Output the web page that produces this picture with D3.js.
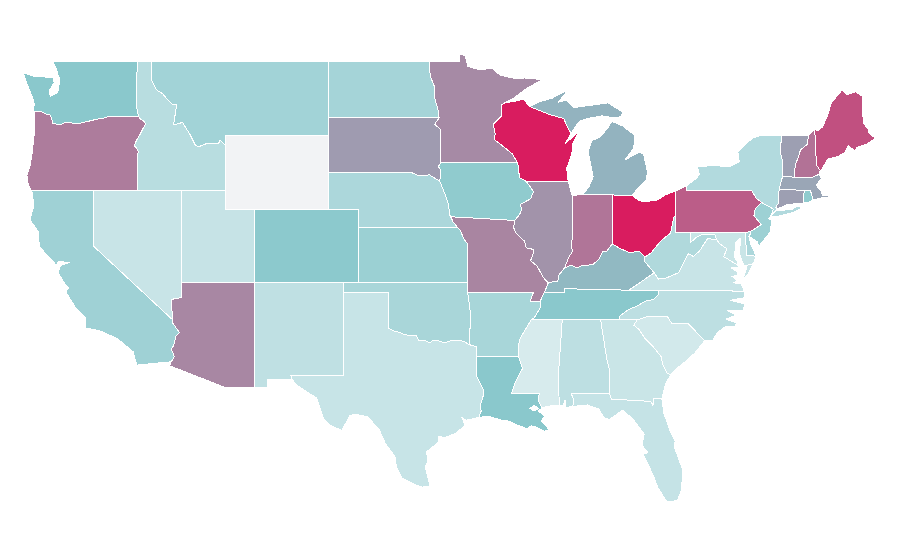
<!DOCTYPE html>
<html><head><meta charset="utf-8">
<script src="https://cdn.jsdelivr.net/npm/d3@7/dist/d3.min.js"></script>
<style>html,body{margin:0;background:#fff}svg{display:block}</style>
</head><body><svg id="map" width="900" height="560"></svg>
<script>
const stateNames=["WA","OR","CA","NV","ID","MT","WY","UT","AZ","CO","NM","ND","SD","NE","KS","OK","TX","MN","IA","MO","AR","LA","WI","IL","MI","IN","OH","KY","TN","MS","AL","GA","FL","SC","NC","VA","WV","MD","DE","PA","NJ","NY","CT","RI","MA","VT","NH","ME"];
const stateValues=[50,72,39,17,25.5,37,0,18,69,49,22,35.5,63,32,41,33.5,17.5,68,47,69.5,34,50,100,65.5,56,74,100,54.5,50,9,23,16.5,18.5,11.5,23,17,30,16.5,32,81,40,28.5,62,47,60,62,75,85];
const colorDomain=[0,1,50,100];
const colorRange=["#f2f3f5","#e6f2f4","#8ac8cc","#d91c5f"];

// Shared borders, lon/lat
const borders={
columbia:[[-124.0,46.27],[-123.5,46.26],[-123.2,46.15],[-122.9,46.08],[-122.8,45.85],[-122.75,45.65],[-122.3,45.55],[-121.9,45.68],[-121.2,45.65],[-120.9,45.65],[-120.5,45.72],[-119.9,45.84],[-119.3,45.93],[-118.98,46.0],[-116.92,46.0]],
snake:[[-116.92,46.0],[-116.78,45.85],[-116.55,45.75],[-116.46,45.6],[-116.67,45.3],[-116.85,45.0],[-117.05,44.75],[-117.22,44.45],[-117.03,44.25],[-116.95,44.1],[-117.03,43.83],[-117.03,42.0]],
waId:[[-117.03,49],[-117.04,46.42],[-116.92,46.0]],
bitter:[[-116.05,49],[-116.05,48.0],[-115.7,47.45],[-115.3,47.25],[-114.95,46.92],[-114.6,46.65],[-114.35,46.65],[-114.45,46.1],[-114.56,45.56],[-113.94,45.69],[-113.8,45.5],[-113.45,45.05],[-113.1,44.5],[-112.9,44.36],[-112.3,44.55],[-111.5,44.55],[-111.4,44.74],[-111.05,44.47]],
caAz:[[-114.63,35.0],[-114.6,34.8],[-114.15,34.3],[-114.4,34.1],[-114.55,33.6],[-114.7,33.4],[-114.5,33.0],[-114.72,32.72]],
red:[[-100,34.56],[-99.6,34.38],[-99.2,34.3],[-98.9,34.2],[-98.4,34.12],[-98.1,34.13],[-97.95,33.9],[-97.6,33.9],[-97.2,33.75],[-96.9,33.9],[-96.6,33.85],[-96.2,33.75],[-95.8,33.85],[-95.3,33.88],[-94.9,33.83],[-94.48,33.64]],
redAr:[[-94.48,33.64],[-94.04,33.55]],
sabine:[[-94.04,31.99],[-93.8,31.6],[-93.55,31.2],[-93.55,30.9],[-93.75,30.4],[-93.7,30.05],[-93.85,29.7]],
moKs:[[-94.62,39.11],[-94.9,39.4],[-95.1,39.85],[-95.3,40.0]],
moNe:[[-95.3,40.0],[-95.6,40.3],[-95.77,40.58]],
iaNe:[[-95.77,40.58],[-95.85,40.7],[-95.9,41.2],[-96.1,41.7],[-96.5,42.5]],
iaSd:[[-96.5,42.5],[-96.45,43.1],[-96.6,43.3],[-96.45,43.5]],
neSd:[[-96.5,42.5],[-96.7,42.6],[-97.2,42.85],[-97.9,42.8],[-98.5,43.0]],
mnSd:[[-96.45,43.5],[-96.45,45.3],[-96.85,45.6],[-96.55,45.94]],
mnNd:[[-96.55,45.94],[-96.6,46.3],[-96.85,47.0],[-96.85,47.6],[-97.15,48.2],[-97.23,49]],
mnWi:[[-92.1,46.75],[-92.3,46.66],[-92.29,46.07],[-92.88,45.6],[-92.75,45.1],[-92.8,44.75],[-92.3,44.45],[-91.6,44.0],[-91.22,43.5]],
iaWi:[[-91.22,43.5],[-91.1,42.7],[-90.65,42.5]],
iaIl:[[-90.65,42.5],[-90.15,41.95],[-90.35,41.55],[-91.05,41.25],[-90.95,40.95],[-91.1,40.7],[-91.42,40.38]],
moIl:[[-91.42,40.38],[-91.5,40.0],[-91.35,39.7],[-90.75,39.25],[-90.65,38.9],[-90.12,38.8],[-90.2,38.5],[-90.35,38.2],[-89.9,37.9],[-89.5,37.3],[-89.15,37.0]],
moKy:[[-89.15,37.0],[-89.4,36.5]],
moTn:[[-89.4,36.5],[-89.7,36.0]],
arTn:[[-89.7,36.0],[-89.65,35.7],[-90.1,35.1],[-90.3,35.0]],
arMs:[[-90.3,35.0],[-90.6,34.6],[-90.9,34.2],[-91.1,33.9],[-91.2,33.4],[-91.17,33.0]],
laMs:[[-91.17,33.0],[-90.9,32.35],[-91.4,31.6],[-91.63,31.0],[-89.75,31.0],[-89.85,30.65],[-89.55,30.2]],
wiMi:[[-90.4,46.55],[-89.1,46.13],[-88.1,45.9],[-87.8,45.35],[-87.6,45.1]],
wabash:[[-87.53,41.72],[-87.53,39.35],[-87.6,39.0],[-87.5,38.7],[-87.75,38.4],[-88.05,37.8]],
ilKy:[[-88.05,37.8],[-88.45,37.4],[-88.5,37.1],[-89.15,37.0]],
inKy:[[-84.82,39.1],[-85.2,38.7],[-85.45,38.7],[-85.7,38.3],[-86.1,38.0],[-86.5,37.95],[-86.8,37.95],[-87.2,37.8],[-87.6,37.95],[-88.05,37.8]],
ohKy:[[-82.6,38.4],[-83.0,38.72],[-83.65,38.63],[-84.25,38.85],[-84.82,39.1]],
ohWv:[[-80.52,40.64],[-80.65,40.55],[-80.85,39.7],[-81.4,39.35],[-81.75,39.05],[-81.9,38.9],[-82.2,38.6],[-82.6,38.4]],
kyWv:[[-82.6,38.4],[-82.6,38.15],[-81.97,37.54]],
kyVa:[[-81.97,37.54],[-83.68,36.6]],
kyTn:[[-83.68,36.6],[-86.5,36.65],[-88.07,36.68],[-88.07,36.5],[-89.4,36.5]],
tnVa:[[-83.68,36.6],[-81.68,36.59]],
tnNc:[[-81.68,36.59],[-81.7,36.35],[-82.0,36.1],[-82.6,36.0],[-83.1,35.75],[-83.7,35.55],[-84.3,35.2],[-84.32,34.99]],
gaSc:[[-83.11,35],[-83.35,34.7],[-83.0,34.47],[-82.6,34.0],[-82.0,33.5],[-81.5,33.0],[-81.4,32.6],[-81.1,32.1],[-80.85,32.03]],
ncSc:[[-83.11,35],[-82.3,35.2],[-81.05,35.15],[-80.8,34.82],[-79.67,34.8],[-78.55,33.86]],
gaAl:[[-85.6,35],[-85.18,32.87],[-85.0,32.3],[-85.0,31.0]],
gaFl:[[-85.0,31.0],[-84.86,30.7],[-82.2,30.57],[-82.05,30.36],[-82.0,30.75],[-81.45,30.72]],
alFl:[[-85.0,31.0],[-87.6,31.0],[-87.4,30.65],[-87.5,30.3]],
alMs:[[-88.2,35],[-88.47,31.9],[-88.4,30.37]],
vaWv:[[-77.72,39.32],[-78.35,39.4],[-78.87,38.75],[-79.3,38.42],[-79.65,38.58],[-80.3,37.55],[-81.22,37.24],[-81.68,37.2],[-81.97,37.54]],
potomac:[[-76.3,37.95],[-77.0,38.3],[-77.25,38.4],[-77.05,38.85],[-77.5,39.1],[-77.72,39.32]],
mdWv:[[-77.72,39.32],[-77.85,39.6],[-78.4,39.62],[-78.75,39.6],[-79.1,39.47],[-79.48,39.2]],
delaware:[[-75.35,42.0],[-75.07,41.6],[-74.7,41.36],[-75.13,40.98],[-75.2,40.65],[-74.72,40.15],[-75.4,39.8]],
njNy:[[-74.7,41.36],[-73.9,41.0],[-74.0,40.7]],
nyVt:[[-73.35,45],[-73.4,44.0],[-73.25,43.55],[-73.27,42.75]],
nyCt:[[-73.5,42.05],[-73.55,41.3],[-73.73,41.1],[-73.65,41.0]],
ctRiver:[[-71.5,45.01],[-71.6,44.5],[-72.05,44.2],[-72.2,43.8],[-72.4,43.4],[-72.45,43.0],[-72.46,42.73]],
maNh:[[-72.46,42.73],[-71.3,42.7],[-70.82,42.87]],
meNh:[[-71.08,45.3],[-70.97,43.4],[-70.7,43.07]],
maRi:[[-71.8,42.02],[-71.38,42.02],[-71.2,41.5]],
ctRi:[[-71.8,42.02],[-71.85,41.32]],
miOh:[[-84.8,41.76],[-83.45,41.73]]
};
// State outlines: a string names a shared border ("-" runs it backwards)
const outlines={
WA:[[[-122.76,49],[-117.03,49],"waId","-columbia",[-124.05,46.27],[-124.0,46.7],[-124.1,47.0],[-124.35,47.5],[-124.6,48.0],[-124.73,48.38],[-123.9,48.17],[-123.1,48.15],[-122.75,48.15],[-122.65,47.85],[-123.0,47.4],[-122.9,47.1],[-122.55,47.25],[-122.4,47.35],[-122.35,47.6],[-122.25,48.0],[-122.4,48.3],[-122.5,48.6]]],
OR:[[[-124.0,46.27],"columbia","snake",[-124.21,42],[-124.4,42.3],[-124.5,42.85],[-124.3,43.3],[-124.15,44.0],[-124.05,44.7],[-123.95,45.5]]],
CA:[[[-124.17,42],[-120,42],[-120,39],"caAz",[-114.72,32.72],[-117.05,32.54],[-117.3,33.27],[-118.41,34.0],[-119.54,34.39],[-120.49,34.55],[-120.56,35.16],[-121.24,35.7],[-121.85,36.5],[-121.69,36.72],[-122.03,37.06],[-122.39,37.59],[-122.2,37.95],[-121.6,38.1],[-122.35,38.15],[-122.52,37.96],[-122.82,38.24],[-123.66,38.96],[-123.72,39.77],[-124.29,40.4],[-124.02,41.22]]],
NV:[[[-120,42],[-114.05,42],[-114.05,36.2],[-114.7,36.1],[-114.63,35.0],[-120,39]]],
ID:[[[-117.03,49],[-116.05,49],"bitter",[-111.05,42],[-117.03,42],"-snake","-waId"]],
MT:[[[-116.05,49],[-104.05,49],[-104.05,45],[-111.05,45],"-bitter"]],
WY:[[[-111.05,45],[-104.05,45],[-104.05,41],[-111.05,41]]],
UT:[[[-114.05,42],[-111.05,42],[-111.05,41],[-109.05,41],[-109.05,37],[-114.05,37]]],
AZ:[[[-114.05,37],[-109.05,37],[-109.05,31.33],[-111.07,31.33],[-114.81,32.5],"-caAz",[-114.7,36.1],[-114.05,36.2]]],
CO:[[[-109.05,41],[-102.05,41],[-102.05,37],[-109.05,37]]],
NM:[[[-109.05,37],[-103,37],[-103.04,36.5],[-103.06,32],[-106.62,32],[-106.53,31.78],[-108.21,31.78],[-108.21,31.33],[-109.05,31.33]]],
ND:[[[-104.05,49],[-97.23,49],"-mnNd",[-104.05,45.94]]],
SD:[[[-104.05,45.94],[-96.55,45.94],"-mnSd","-iaSd","neSd",[-104.05,43]]],
NE:[[[-104.05,43],"-neSd","-iaNe","-moNe",[-102.05,40],[-102.05,41],[-104.05,41]]],
KS:[[[-102.05,40],"-moKs",[-94.62,37],[-102.05,37]]],
OK:[[[-103,37],[-94.62,37],[-94.62,36.5],[-94.43,35.4],"-red",[-100,36.5],[-103.04,36.5]]],
TX:[[[-103.04,36.5],[-100,36.5],"red","redAr","sabine",[-94.75,29.55],[-95.02,29.73],[-94.8,29.3],[-95.36,28.86],[-96.2,28.6],[-96.56,28.7],[-96.63,28.32],[-97.4,27.85],[-97.3,27.3],[-97.5,27.03],[-97.3,26.4],[-97.15,25.96],[-97.7,25.93],[-98.3,26.1],[-99.09,26.42],[-99.45,27.05],[-99.54,27.57],[-100.2,28.3],[-100.65,29.1],[-100.9,29.3],[-101.4,29.74],[-102.3,29.88],[-102.6,29.8],[-103.15,29],[-104,29.3],[-104.4,29.67],[-104.85,30.75],[-106.2,31.45],[-106.53,31.78],[-106.62,32],[-103.06,32]]],
MN:[[[-97.23,49],[-95.15,49],[-95.15,49.38],[-94.8,49.33],[-94.6,48.72],[-93.8,48.55],[-92.95,48.62],[-92.4,48.25],[-91.4,48.07],[-90.75,48.1],[-89.5,48.01],[-90.5,47.6],[-91.5,47.0],"mnWi",[-96.45,43.5],"mnSd","mnNd"]],
IA:[[[-96.45,43.5],[-91.22,43.5],"iaWi","iaIl",[-95.77,40.58],"iaNe","iaSd"]],
MO:[[[-95.77,40.58],[-91.42,40.38],"moIl","moKy","moTn",[-90.37,36],[-90.15,36.5],[-94.62,36.5],[-94.62,39.11],"moKs","moNe"]],
AR:[[[-94.62,36.5],[-90.15,36.5],[-90.37,36],"arTn","arMs",[-94.04,33],[-94.04,33.55],"-redAr",[-94.43,35.4]]],
LA:[[[-94.04,33],"laMs",[-89.85,30.05],[-89.4,29.8],[-89.6,29.5],[-89.1,29.05],[-89.4,28.95],[-90.0,29.2],[-90.3,29.25],[-90.6,29.1],[-91.3,29.3],[-91.8,29.5],[-92.3,29.55],[-93.2,29.77],"-sabine"],[[-90.4,30.2],[-90.1,30.35],[-89.8,30.2],[-90.1,30.05]]],
WI:[["-iaWi","-mnWi",[-91.2,46.87],[-90.85,46.96],[-90.4,46.55],"wiMi",[-88,44.55],[-87.07,45.2],[-87.5,44.5],[-87.55,44],[-87.9,43.2],[-87.8,42.5]]],
IL:[[[-90.65,42.5],[-87.8,42.5],"wabash","ilKy","-moIl","-iaIl"]],
MI:[[[-86.82,41.76],"miOh",[-83.15,42.05],[-82.5,42.6],[-82.42,43],[-82.7,44],[-83,44.07],[-83.95,43.66],[-83.35,44.3],[-83.3,45],[-84.1,45.5],[-84.85,45.75],[-85.1,45.4],[-85.65,44.9],[-86.2,44.7],[-86.45,44.1],[-86.1,42.75],[-86.4,42.2]],
    ["wiMi",[-87.05,45.75],[-86.5,45.9],[-85.5,46.05],[-84.75,45.95],[-84.2,46],[-84.1,46.25],[-84.5,46.45],[-85.1,46.75],[-86,46.65],[-87.4,46.5],[-87.9,46.9],[-88.45,46.8],[-87.8,47.47],[-88.9,47],[-89.8,46.8]]],
IN:[[[-87.53,41.72],[-87.2,41.76],[-86.82,41.76],[-84.8,41.76],"inKy","-wabash"]],
OH:[["miOh",[-83,41.45],[-82.5,41.4],[-81.7,41.5],[-81.2,41.77],[-80.52,41.98],"ohWv","ohKy"]],
KY:[["-ohKy","kyWv","kyVa","kyTn","-moKy","-ilKy","-inKy"]],
TN:[["-kyTn","tnVa","tnNc",[-88.2,35],[-90.3,35],"-arTn","-moTn"]],
MS:[[[-88.2,35],[-90.3,35],"arMs","laMs",[-89.3,30.3],"-alMs"]],
AL:[[[-88.2,35],[-85.6,35],"gaAl","alFl",[-88,30.23],[-88,30.65],[-88.15,30.35],"-alMs"]],
GA:[[[-85.6,35],[-83.11,35],"gaSc",[-81.2,31.5],"-gaFl","-gaAl"]],
FL:[["gaFl",[-81.3,29.9],[-80.9,29],[-80.55,28.4],[-80.6,28.1],[-80.05,26.9],[-80.1,25.8],[-80.4,25.2],[-81.1,25.12],[-81.75,25.95],[-82,26.5],[-82.7,27.7],[-82.4,27.8],[-82.8,28.2],[-82.65,28.8],[-83.4,29.6],[-84.1,30.1],[-85,29.6],[-85.4,29.7],[-85.7,30.15],[-86.5,30.38],"-alFl"]],
SC:[["ncSc",[-79.2,33.2],[-79.9,32.7],[-80.45,32.35],"-gaSc"]],
NC:[[[-84.32,34.99],[-83.11,35],"ncSc",[-77.98,33.9],[-77.7,34.3],[-77.1,34.65],[-76.5,34.65],[-76.4,34.82],[-77.1,35.03],[-76.4,35.25],[-77.05,35.5],[-75.95,35.5],[-75.8,35.85],[-76.8,36.05],[-75.8,36.2],[-75.87,36.55],[-81.68,36.59],"tnNc"]],
VA:[["tnVa",[-75.87,36.55],[-76.05,36.93],[-76.6,37.0],[-76.3,37.1],[-76.7,37.35],[-76.3,37.4],[-76.35,37.6],[-76.75,37.8],[-76.25,37.85],"potomac","vaWv","kyVa"],[[-75.97,37.15],[-75.6,37.5],[-75.25,38.03],[-75.65,37.95]]],
WV:[[[-80.52,40.64],[-80.52,39.72],[-79.48,39.72],[-79.48,39.2],"-mdWv","vaWv","-kyWv","-ohWv"]],
MD:[[[-79.48,39.72],[-75.79,39.72],[-75.7,38.46],[-75.05,38.45],[-75.25,38.03],[-75.65,37.95],[-75.9,37.95],[-76.2,38.6],[-76.1,39.4],[-76.05,39.45],[-76.45,39.2],[-76.45,38.9],[-76.55,38.4],[-76.35,38.2],[-76.3,37.95],"potomac","mdWv"]],
DE:[[[-75.79,39.72],[-75.4,39.8],[-75.55,39.5],[-75.4,39.05],[-75.05,38.45],[-75.7,38.46]]],
PA:[[[-80.52,41.98],[-79.76,42.27],[-79.76,42],"delaware",[-75.79,39.72],[-80.52,39.72]]],
NJ:[["njNy",[-74.2,40.48],[-74,40.4],[-74.1,39.75],[-74.9,38.95],[-74.95,39.2],[-75.5,39.5],[-75.4,39.8],[-74.72,40.15],[-75.2,40.65],[-75.13,40.98]]],
NY:[[[-79.76,42.27],[-79.05,42.7],[-78.9,42.9],[-79.05,43.27],[-78,43.37],[-76.9,43.28],[-76.2,43.55],[-76.3,44.1],[-75.3,44.85],[-74.7,45],"nyVt",[-73.5,42.05],"nyCt",[-73.9,40.8],[-74,40.7],[-73.9,41],[-74.7,41.36],[-75.07,41.6],[-75.35,42],[-79.76,42]],[[-74.05,40.6],[-73.7,40.9],[-72.6,40.98],[-72.3,41.15],[-71.87,41.07],[-72.5,40.82],[-73.7,40.58]]],
CT:[["nyCt",[-72.9,41.25],[-71.85,41.32],"-ctRi"]],
RI:[["maRi",[-71.5,41.37],[-71.85,41.32]]],
MA:[[[-73.5,42.05],[-73.27,42.75],"maNh",[-70.6,42.65],[-71,42.3],[-70.65,41.95],[-70.55,41.75],[-70,41.75],[-70,41.67],[-70.6,41.6],[-71.2,41.5],"-maRi"]],
VT:[[[-73.35,45],"ctRiver",[-73.27,42.75],"-nyVt"]],
NH:[[[-71.5,45.01],[-71.08,45.3],"meNh",[-70.82,42.87],"-maNh","-ctRiver"]],
ME:[["-meNh",[-70.85,45.25],[-70.55,45.45],[-70.15,46.2],[-70,46.7],[-69.23,47.46],[-68.9,47.2],[-68.3,47.35],[-67.85,47.1],[-67.8,45.7],[-67.45,45.3],[-67.45,45.15],[-66.97,44.83],[-67.6,44.5],[-68.2,44.35],[-68.4,44.15],[-68.8,44.45],[-69.05,44.05],[-69.5,43.85],[-70.2,43.7],[-70.6,43.15]]]
};

function expand(ring){
  const pts=[];
  ring.forEach(item=>{
    if(typeof item==="string"){
      const rev=item[0]==="-";
      const arc=borders[rev?item.slice(1):item];
      (rev?arc.slice().reverse():arc).forEach(p=>pts.push(p));
    } else pts.push(item);
  });
  pts.push(pts[0]);
  return pts;
}
const x=d3.scaleLinear().domain([-102.05,-66.95]).range([358,875.7]);
const y=d3.scaleLinear().domain([41,25.12]).range([209,502]);
const color=d3.scaleLinear().domain(colorDomain).range(colorRange);
const path=d3.geoPath(d3.geoTransform({point(lon,lat){this.stream.point(x(lon),y(lat));}}));
const features=stateNames.map((id,i)=>({type:"Feature",id,properties:{value:stateValues[i]},
  geometry:{type:"Polygon",coordinates:outlines[id].map(expand)}}));
d3.select("#map").append("g").selectAll("path").data(features).join("path")
  .attr("d",path).attr("fill",d=>color(d.properties.value))
  .attr("fill-rule","evenodd").attr("stroke","#fff").attr("stroke-width",1)
  .attr("shape-rendering","crispEdges");
</script>
</body></html>
